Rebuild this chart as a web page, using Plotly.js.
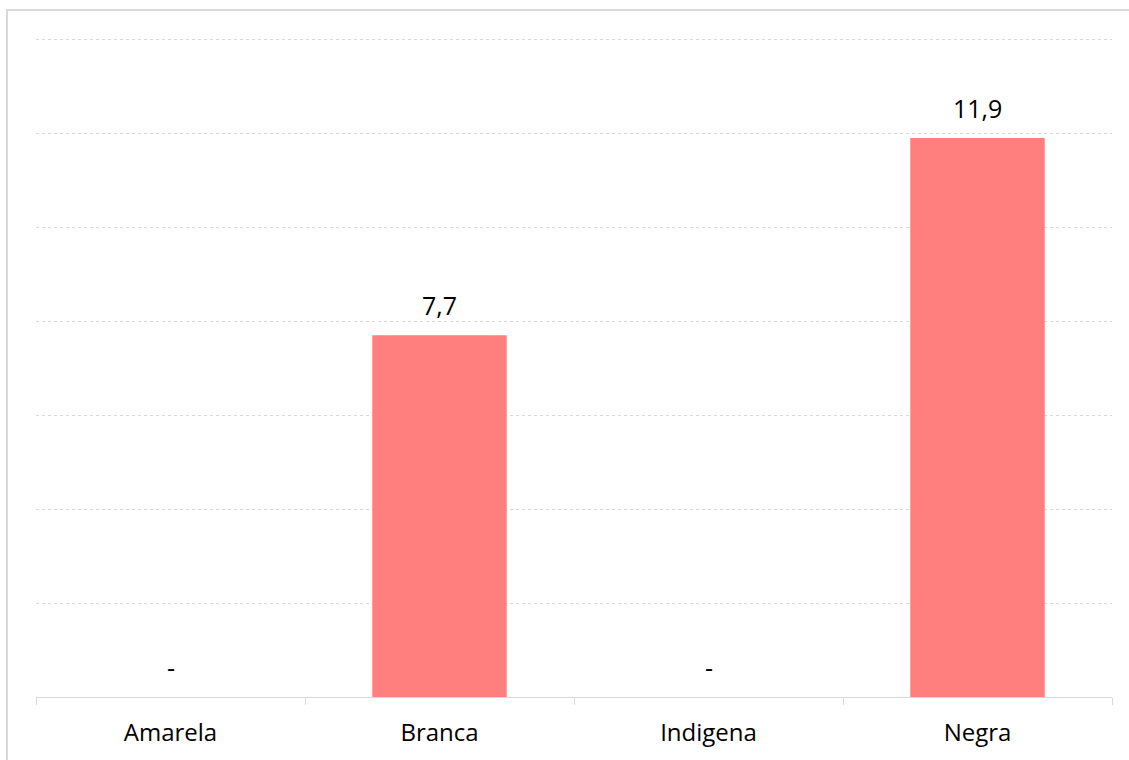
<!DOCTYPE html>
<html>
<head>
<meta charset="utf-8">
<script src="https://cdn.plot.ly/plotly-3.0.1.min.js"></script>
<style>
html,body{margin:0;padding:0;background:#fff;overflow:hidden;}
#chart{position:absolute;left:0;top:0;width:1129px;height:760px;}
#frame{position:absolute;left:6px;top:9px;width:1200px;height:800px;border:2px solid #d9d9d9;pointer-events:none;box-sizing:border-box;}
</style>
</head>
<body>
<div id="chart"></div>
<div id="frame"></div>
<script>
const categories = ["Amarela", "Branca", "Indigena", "Negra"];
const values = [0, 7.7, 0, 11.9];
const labels = values.map(v => v === 0 ? "-" : v.toFixed(1).replace(".", ","));

const FONT = "Open Sans, Noto Sans, sans-serif";

const trace = {
  type: "bar",
  x: categories,
  y: values,
  marker: {color: "#ff7f7f", line: {width: 0}},
  hoverinfo: "skip"
};

const annotations = categories.map((c, i) => ({
  x: c,
  y: values[i],
  xref: "x",
  yref: "y",
  text: labels[i],
  showarrow: false,
  yanchor: "bottom",
  xanchor: "center",
  yshift: 11,
  font: {family: FONT, size: 25, color: "#000"}
}));

const layout = {
  width: 1129,
  height: 760,
  margin: {l: 36, r: 17, t: 38, b: 63},
  paper_bgcolor: "rgba(0,0,0,0)",
  plot_bgcolor: "rgba(0,0,0,0)",
  bargap: 0.5,
  showlegend: false,
  font: {family: FONT, color: "#000"},
  annotations: annotations,
  xaxis: {
    type: "category",
    showline: true,
    linecolor: "#d9d9d9",
    linewidth: 1,
    ticks: "outside",
    tickson: "boundaries",
    ticklen: 7,
    tickcolor: "#d9d9d9",
    tickfont: {family: FONT, size: 24, color: "#000"},
    ticklabelstandoff: 14,
    showgrid: false,
    zeroline: false,
    fixedrange: true
  },
  yaxis: {
    range: [0, 14.03],
    dtick: 2,
    tick0: 0,
    showticklabels: false,
    showgrid: true,
    gridcolor: "#d9d9d9",
    griddash: "dot",
    gridwidth: 1,
    zeroline: false,
    showline: false,
    ticks: "",
    fixedrange: true
  }
};

Plotly.newPlot("chart", [trace], layout, {displayModeBar: false, staticPlot: true});
</script>
</body>
</html>
